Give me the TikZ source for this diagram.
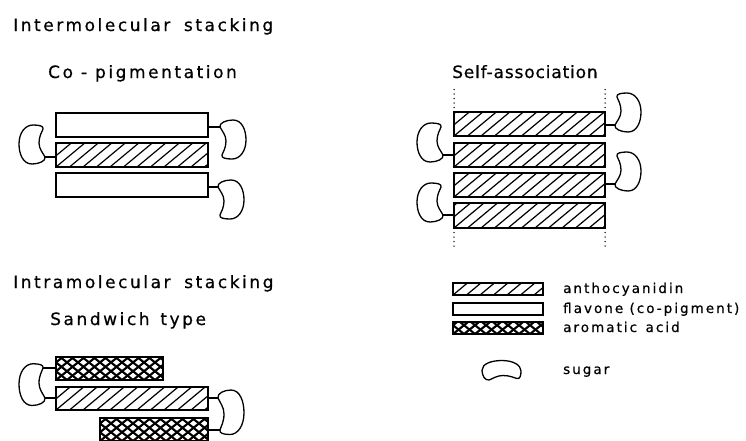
\documentclass[tikz,border=0pt]{standalone}
\usepackage{fontspec}
\setmainfont{DejaVu Sans}[LetterSpace=15,FakeBold=0.6]
\newfontfamily\tightfont{DejaVu Sans}[LetterSpace=5,FakeBold=0.6]
\tikzset{
  box/.style={draw, line width=1.6pt, fill=white, inner sep=0pt, outer sep=0pt, anchor=north west},
  flav/.style={box},
  antho/.style={box, path picture={\foreach \i in {-4,...,13}{\draw[line width=1.2pt] ([xshift=\i*13.5pt]path picture bounding box.south west) -- ++(36pt,30pt);}}},
  arom/.style={box, path picture={\foreach \i in {-5,...,14}{\draw[line width=2.1pt] ([xshift=\i*11pt]path picture bounding box.south west) -- ++(35pt,28pt); \draw[line width=2.1pt] ([xshift=\i*11pt]path picture bounding box.south west) -- ++(-35pt,28pt);}}},
  conn/.style={line width=1.6pt},
  sugarline/.style={line width=1.3pt, line join=round},
  dotline/.style={line width=1.5pt, line cap=round, dash pattern=on 0pt off 4.5pt},
  head/.style={anchor=base west, inner sep=0pt, font=\fontsize{17}{20}\selectfont},
  leg/.style={anchor=base west, inner sep=0pt, font=\fontsize{13.5}{16}\selectfont},
}
\newcommand\beanat[3]{%
  \begin{scope}[shift={(#1)},#2]
    \draw[sugarline] (0,0) .. controls (-1,-4) and (6,-7) .. (13,-7)
      .. controls (22,-7) and (26,3) .. (26,13)
      .. controls (26,24) and (20,32) .. (12,32)
      .. controls (6,32) and (1,31) .. (2,28)
      .. controls (3,25) and (6,21) .. (6,14)
      .. controls (6,8) and (2,4) .. (0,0) -- cycle;
    \coordinate (#3) at (2,28);
  \end{scope}}
\begin{document}
\begin{tikzpicture}[x=1pt,y=-1pt]
\useasboundingbox (0,0) rectangle (746,440);

% headings
\node[head] (t1) at (13,31) {Intermolecular\,\, stacking};
\node[head] (t2) at (48,78) {Co - pigmentation};
\node[head] (t3) at (452,78) {\tightfont Self-association};
\node[head] (t4) at (13,288) {Intramolecular\,\, stacking};
\node[head] (t5) at (50,325) {Sandwich\, type};

% co-pigmentation
\node[flav, minimum width=152pt, minimum height=24pt] (c1) at (56,113) {};
\node[antho, minimum width=152pt, minimum height=24pt] (c2) at (56,143) {};
\node[flav, minimum width=152pt, minimum height=24pt] (c3) at (56,173) {};
\coordinate (k1) at (220,127);
\coordinate (k2) at (45,157);
\coordinate (k3) at (218,187);
\draw[conn] (k1 -| c1.east) -- (k1);
\draw[conn] (k2 -| c2.west) -- (k2);
\draw[conn] (k3 -| c3.east) -- (k3);
\beanat{k1}{x={(1pt,0pt)},y={(0pt,-1pt)}}{k1b}
\beanat{k2}{x={(-1pt,0pt)},y={(0pt,1pt)}}{k2b}
\beanat{k3}{x={(1pt,0pt)},y={(0pt,-1pt)}}{k3b}

% self-association
\node[antho, minimum width=151pt, minimum height=24pt] (s1) at (454,112) {};
\node[antho, minimum width=151pt, minimum height=24pt] (s2) at (454,143) {};
\node[antho, minimum width=151pt, minimum height=24pt] (s3) at (454,173) {};
\node[antho, minimum width=151pt, minimum height=25pt] (s4) at (454,203) {};
\coordinate (m1) at (615,125);
\coordinate (m2) at (443,155);
\coordinate (m3) at (615,184);
\coordinate (m4) at (443,215);
\draw[conn] (m1 -| s1.east) -- (m1);
\draw[conn] (m2 -| s2.west) -- (m2);
\draw[conn] (m3 -| s3.east) -- (m3);
\draw[conn] (m4 -| s4.west) -- (m4);
\beanat{m1}{x={(1pt,0pt)},y={(0pt,1pt)}}{m1b}
\beanat{m2}{x={(-1pt,0pt)},y={(0pt,1pt)}}{m2b}
\beanat{m3}{x={(1pt,0pt)},y={(0pt,1pt)}}{m3b}
\beanat{m4}{x={(-1pt,0pt)},y={(0pt,1pt)}}{m4b}
\draw[dotline] (s1.north west) -- ++(0,-25);
\draw[dotline] (s1.north east) -- ++(0,-25);
\draw[dotline] (s4.south west) -- ++(0,21);
\draw[dotline] (s4.south east) -- ++(0,21);

% sandwich type
\node[arom, minimum width=107pt, minimum height=23pt] (a1) at (56,357) {};
\node[antho, minimum width=152pt, minimum height=23pt] (h1) at (56,387) {};
\node[arom, minimum width=108pt, minimum height=23pt] (a2) at (100,418) {};
\coordinate (w1) at (45,398);
\coordinate (w2) at (218,398);
\draw[conn] (w1 -| h1.west) -- (w1);
\draw[conn] (w2 -| h1.east) -- (w2);
\beanat{w1}{x={(-1pt,0pt)},y={(0pt,1.07pt)}}{w1b}
\beanat{w2}{x={(1pt,0pt)},y={(0pt,-1.14pt)}}{w2b}
\draw[conn] (w1b -| a1.west) -- (w1b);
\draw[conn] (w2b -| a2.east) -- (w2b);

% legend
\node[antho, minimum width=90pt, minimum height=12pt] (l1) at (453,283) {};
\node[flav, minimum width=90pt, minimum height=12pt] (l2) at (453,303) {};
\node[arom, minimum width=90pt, minimum height=12pt] (l3) at (453,322) {};
\coordinate (l4) at (489,380);
\beanat{l4}{x={(0pt,0.75pt)},y={(1pt,0pt)}}{l4b}
\node[leg] (n1) at (563,293) {anthocyanidin};
\node[leg] (n2) at (563,313) {flavone (co-pigment)};
\node[leg] (n3) at (563,332) {aromatic\, acid};
\node[leg] (n4) at (563,374) {sugar};
\end{tikzpicture}
\end{document}
